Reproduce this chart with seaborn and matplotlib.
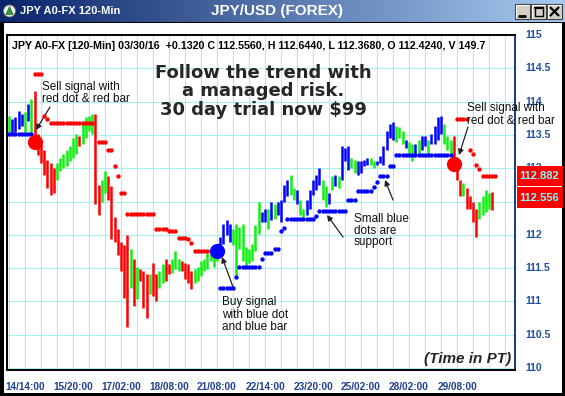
import matplotlib
matplotlib.use("Agg")
import matplotlib.pyplot as plt
import matplotlib.transforms as mtransforms
import numpy as np
import pandas as pd
import seaborn as sns
from matplotlib.colors import LinearSegmentedColormap
from matplotlib.lines import Line2D
from matplotlib.patches import Circle, Polygon, Rectangle

W, H = 565, 396

# 120-min bars: high / low and signal colour (g = up, b = long, r = short)
bar_high = [
    113.79, 113.74, 113.77, 113.86, 113.82, 113.85, 113.96, 114.04, 114.16, 113.52,
    113.37, 113.27, 113.12, 113.08, 113.00, 113.08, 113.15, 113.22, 113.27, 113.34,
    113.45, 113.52, 113.48, 113.67, 113.77, 113.79, 113.82, 113.82,
    112.75, 112.83, 112.96, 112.88, 112.74, 112.26, 112.09, 111.89, 111.85, 112.00,
    111.79, 111.64, 111.52, 111.48, 111.45, 111.41, 111.41, 111.57, 111.41, 111.45,
    111.56, 111.63, 111.56, 111.63, 111.75, 111.63,
    111.60, 111.57, 111.56, 111.45, 111.48, 111.52, 111.60, 111.64, 111.72, 111.79,
    111.75, 111.82, 111.97, 112.16, 112.22, 112.16, 112.09, 112.16, 112.12, 112.16,
    111.82, 111.79, 111.86, 112.14, 112.49, 112.34,
    112.38, 112.38, 112.49, 112.46, 112.49, 112.53, 112.75, 112.83, 112.90, 112.71,
    112.67, 112.53, 112.38, 112.53, 112.68, 112.83, 112.90, 113.00, 112.83, 112.74,
    112.63, 112.88, 112.90, 112.88, 113.33, 113.30,
    113.33, 113.15, 113.12, 113.11, 113.11, 113.12, 113.15, 113.15, 113.11, 113.11,
    113.18, 113.33, 113.56, 113.67, 113.70, 113.64, 113.62, 113.56, 113.42, 113.40,
    113.37, 113.37, 113.42, 113.48, 113.48, 113.42, 113.52,
    113.64, 113.77, 113.79, 113.67, 113.48, 113.42, 113.48, 113.08, 112.83, 112.78,
    112.71, 112.59, 112.49, 112.38, 112.49, 112.59, 112.67, 112.63, 112.644,
]
bar_low = [
    113.55, 113.52, 113.55, 113.59, 113.64, 113.55, 113.71, 113.52, 113.30, 113.20,
    113.08, 112.90, 112.71, 112.60, 112.63, 112.83, 112.96, 113.00, 113.03, 113.11,
    113.15, 113.22, 113.33, 113.37, 113.45, 113.56, 113.52, 112.46,
    112.29, 112.49, 112.63, 112.53, 111.94, 111.89, 111.70, 111.45, 111.05, 110.61,
    111.20, 110.93, 111.04, 111.30, 110.90, 110.75, 111.11, 111.08, 111.01, 111.20,
    111.27, 111.30, 111.41, 111.42, 111.48, 111.45,
    111.45, 111.33, 111.27, 111.18, 111.27, 111.30, 111.38, 111.45, 111.49, 111.60,
    111.52, 111.60, 111.79, 111.86, 112.00, 111.89, 111.85, 111.38, 111.79, 111.60,
    111.52, 111.57, 111.60, 111.75, 112.01, 112.19,
    112.19, 112.09, 112.22, 112.23, 112.29, 112.19, 112.49, 112.59, 112.60, 112.53,
    112.46, 112.29, 112.23, 112.29, 112.38, 112.60, 112.68, 112.75, 112.53, 112.41,
    112.46, 112.68, 112.74, 112.71, 112.83, 113.11,
    112.97, 113.00, 112.93, 112.90, 112.93, 113.03, 113.05, 113.05, 113.00, 113.05,
    113.08, 113.05, 113.27, 113.45, 113.42, 113.40, 113.45, 113.37, 113.30, 113.22,
    113.11, 113.20, 113.22, 113.27, 113.33, 113.22, 113.37,
    113.37, 113.42, 113.52, 113.37, 113.27, 113.22, 112.97, 112.83, 112.59, 112.59,
    112.38, 112.38, 112.19, 111.97, 112.23, 112.29, 112.34, 112.38, 112.368,
]
bar_signal = list(
    "gbbbbgbgr" "rrrrrr" "ggggggg" "r" "gggg" "r"
    "rggrrrrrrrgrgrrrgrrggrrggg"
    "rrrrggggggggbbbbgggggggggb"
    "bgbgbbbbggbggbbbbbggbgbgbb"
    "bggbbbbggbbbbbbgggbggbgbbgb"
    "bbbgggrrrgrrrrggggr"
)

# trailing stop dots, stored as runs of equal level (bar start, bar end, price)
red_start = [8, 11, 12, 13, 28, 31, 33, 34, 35, 37, 46, 50, 53, 56, 57, 58,
             140, 144, 145, 146, 147, 148]
red_end = [10, 11, 12, 26, 30, 32, 33, 34, 36, 45, 49, 52, 55, 56, 57, 63,
           143, 144, 145, 146, 147, 152]
red_level = [114.42, 113.79, 113.74, 113.68, 113.40, 113.27, 113.03, 112.88, 112.63,
             112.31, 112.09, 112.05, 111.95, 111.93, 111.88, 111.76,
             113.74, 113.28, 113.21, 113.05, 112.99, 112.88]
blue_start = [0, 66, 71, 72, 79, 80, 83, 85, 86, 87, 96, 97, 106, 109, 114, 115,
              116, 119, 121]
blue_end = [7, 70, 71, 78, 79, 82, 84, 85, 86, 95, 96, 105, 108, 113, 114, 115,
            118, 120, 138]
blue_level = [113.52, 111.20, 111.36, 111.51, 111.64, 111.72, 111.79, 112.06, 112.10,
              112.23, 112.28, 112.35, 112.52, 112.66, 112.72, 112.80, 112.88, 113.03,
              113.20]

sell_idx = [8, 139]
sell_price = [113.40, 113.06]
buy_idx = [65]
buy_price = [111.76]

x_label_idx = [5, 20, 35, 50, 65, 80, 95, 110, 125, 140]
x_labels = ["14/14:00", "15/20:00", "17/02:00", "18/08:00", "21/08:00",
            "22/14:00", "23/20:00", "25/02:00", "28/02:00", "29/08:00"]
y_ticks = [110, 110.5, 111, 111.5, 112, 112.5, 113, 113.5, 114, 114.5, 115]
# 112.5 sits under the last-price boxes, so it is not printed
y_tick_labels = ["110", "110.5", "111", "111.5", "112", "", "113", "113.5", "114",
                 "114.5", "115"]
last_prices = [112.882, 112.556]

RED, GREEN, BLUE = "#FF0000", "#11EE11", "#0000FF"
GRID = "#A8EEEE"


def fx(px):
    return px / W


def fy(py):
    return 1 - py / H


def expand(starts, ends, levels):
    rows = []
    for s, e, lev in zip(starts, ends, levels):
        for i in range(s, e + 1):
            rows.append((i, lev))
    return pd.DataFrame(rows, columns=["idx", "price"])


sns.set_style("white")
plt.rcParams["font.family"] = ["Liberation Sans", "DejaVu Sans"]

fig = plt.figure(figsize=(W / 100, H / 100), dpi=100, facecolor="black")
fig.add_artist(Rectangle((fx(4), fy(393)), fx(562) - fx(4), fy(23) - fy(393),
                         transform=fig.transFigure, facecolor="white",
                         edgecolor="none", zorder=0))

# window title bar
tbar = fig.add_axes([0, fy(22), 1, 22 / H])
cmap = LinearSegmentedColormap.from_list("tb", ["#0A246A", "#A6CAF0"])
tbar.imshow(np.linspace(0, 1, 256)[None, :], cmap=cmap, aspect="auto",
            extent=[0, W, 22, 0])
tbar.set_xlim(0, W)
tbar.set_ylim(22, 0)
tbar.axis("off")
tbar.add_patch(Circle((9.5, 11), 6, facecolor="#F4F4F4", edgecolor="#707070", lw=0.6))
tbar.add_patch(Polygon([(6, 14.5), (9.5, 6.5), (13, 14.5)], facecolor="#2E9E2E",
                       edgecolor="#1B6B1B", lw=0.5))
tbar.text(20, 11.5, "JPY A0-FX 120-Min", color="white", fontsize=8,
          fontweight="bold", va="center", ha="left")
tbar.text(277, 11.5, "JPY/USD (FOREX)", color="white", fontsize=11,
          fontweight="bold", va="center", ha="center")
for bx in (515, 531, 547):
    tbar.add_patch(Rectangle((bx, 4), 15, 15, facecolor="#D4D0C8",
                             edgecolor="#404040", lw=0.8))
    tbar.add_line(Line2D([bx + 0.8, bx + 0.8, bx + 14], [18, 4.8, 4.8],
                         color="white", lw=0.8))
tbar.add_line(Line2D([519, 525], [15.5, 15.5], color="black", lw=2))
tbar.add_patch(Rectangle((534.5, 7), 8.5, 8.5, fill=False, edgecolor="black", lw=1))
tbar.add_line(Line2D([534.5, 543], [7.6, 7.6], color="black", lw=1.6))
tbar.add_line(Line2D([550.5, 558.5], [7.5, 15.5], color="black", lw=1.6))
tbar.add_line(Line2D([550.5, 558.5], [15.5, 7.5], color="black", lw=1.6))

# price chart
ax = fig.add_axes([fx(7), fy(370), fx(515) - fx(7), fy(35) - fy(370)])
ax.set_facecolor("white")
ax.set_xlim(-0.6, 158.1)
ax.set_ylim(109.97, 114.93)

ax.set_xticks(x_label_idx)
ax.set_xticklabels(x_labels)
ax.set_xticks(np.arange(0, 160, 5), minor=True)
ax.set_yticks(y_ticks)
ax.set_yticklabels([])
ax.grid(which="minor", axis="x", color=GRID, lw=0.8, zorder=0)
ax.grid(which="major", axis="x", color=GRID, lw=0.8, zorder=0)
ax.grid(which="major", axis="y", color=GRID, lw=0.8, zorder=0)
ax.set_axisbelow(True)
ax.tick_params(axis="x", which="both", direction="out", length=5, width=1,
               color="#1F3F7F", labelsize=7.2, labelcolor="#1F3F8F", pad=3.5)
ax.tick_params(axis="y", length=0)
for lbl in ax.get_xticklabels():
    lbl.set_fontweight("bold")
for name, sp in ax.spines.items():
    sp.set_visible(True)
    sp.set_linewidth(1.4)
    sp.set_color("#1A3A7A" if name == "right" else "black")

for val, txt in zip(y_ticks, y_tick_labels):
    ax.text(1.0197, val, txt, transform=ax.get_yaxis_transform(), ha="left",
            va="center", fontsize=7.5, fontweight="bold", color="#1E50A0", clip_on=False)

bars = pd.DataFrame({"high": bar_high, "low": bar_low, "signal": bar_signal})
bars["idx"] = np.arange(len(bars))
bars["color"] = bars["signal"].map({"r": RED, "g": GREEN, "b": BLUE})
ax.vlines(bars["idx"], bars["low"], bars["high"], colors=bars["color"], lw=1.8, zorder=3)

red_dots = expand(red_start, red_end, red_level)
blue_dots = expand(blue_start, blue_end, blue_level)
sns.scatterplot(data=red_dots, x="idx", y="price", color=RED, s=10, linewidth=0,
                ax=ax, zorder=4, legend=False)
sns.scatterplot(data=blue_dots, x="idx", y="price", color=BLUE, s=10, linewidth=0,
                ax=ax, zorder=4, legend=False)
sns.scatterplot(x=sell_idx, y=sell_price, color=RED, s=120, linewidth=0, ax=ax,
                zorder=5, legend=False)
sns.scatterplot(x=buy_idx, y=buy_price, color=BLUE, s=120, linewidth=0, ax=ax,
                zorder=5, legend=False)
ax.set_xlabel("")
ax.set_ylabel("")

# last price boxes on the right scale
blend = mtransforms.blended_transform_factory(fig.transFigure, ax.transData)
half = 10.5 / 67.6
for p in last_prices:
    fig.add_artist(Rectangle((fx(517), p - half), fx(563) - fx(517), 2 * half,
                             transform=blend, facecolor=RED, edgecolor="none", zorder=6))
    fig.text(fx(519), 0, f"{p:.3f}", transform=blend, fontsize=8, fontweight="bold",
             color="#7FFFFF", va="center", ha="left", zorder=7).set_y(p)

# header and notes
fig.text(fx(12), fy(46),
         "JPY A0-FX [120-Min] 03/30/16  +0.1320 C 112.5560, H 112.6440, "
         "L 112.3680, O 112.4240, V 149.7",
         fontsize=7.7, fontweight="bold", va="center", ha="left", color="black")
fig.text(fx(263), fy(91.5), "Follow the trend with\na managed risk.\n30 day trial now $99",
         family="DejaVu Sans", fontsize=13, fontweight="bold", ha="center",
         va="center", linespacing=1.02)
notes = [
    (42, 93, "Sell signal with\nred dot & red bar"),
    (467, 114.5, "Sell signal with\nred dot & red bar"),
    (222, 314.5, "Buy signal\nwith blue dot\nand blue bar"),
    (354, 230.5, "Small blue\ndots are\nsupport"),
]
for x, y, txt in notes:
    fig.text(fx(x), fy(y), txt, fontsize=8.5, ha="left", va="center", linespacing=1.0,
             color="#111111")
fig.text(fx(511), fy(359), "(Time in PT)", fontsize=11, fontweight="bold",
         style="italic", ha="right", va="center")

arrows = [((50, 107), (36, 130)), ((233, 287), (222, 257)), ((343, 237), (327, 215)),
          ((393, 200), (385, 180)), ((468, 127), (459, 155))]
for tail, head in arrows:
    ax.annotate("", xy=(fx(head[0]), fy(head[1])), xycoords="figure fraction",
                xytext=(fx(tail[0]), fy(tail[1])), textcoords="figure fraction",
                arrowprops=dict(arrowstyle="-|>", color="#222222", lw=0.9,
                                mutation_scale=8, shrinkA=0, shrinkB=0))

fig.savefig("out.png", dpi=100, facecolor=fig.get_facecolor())
